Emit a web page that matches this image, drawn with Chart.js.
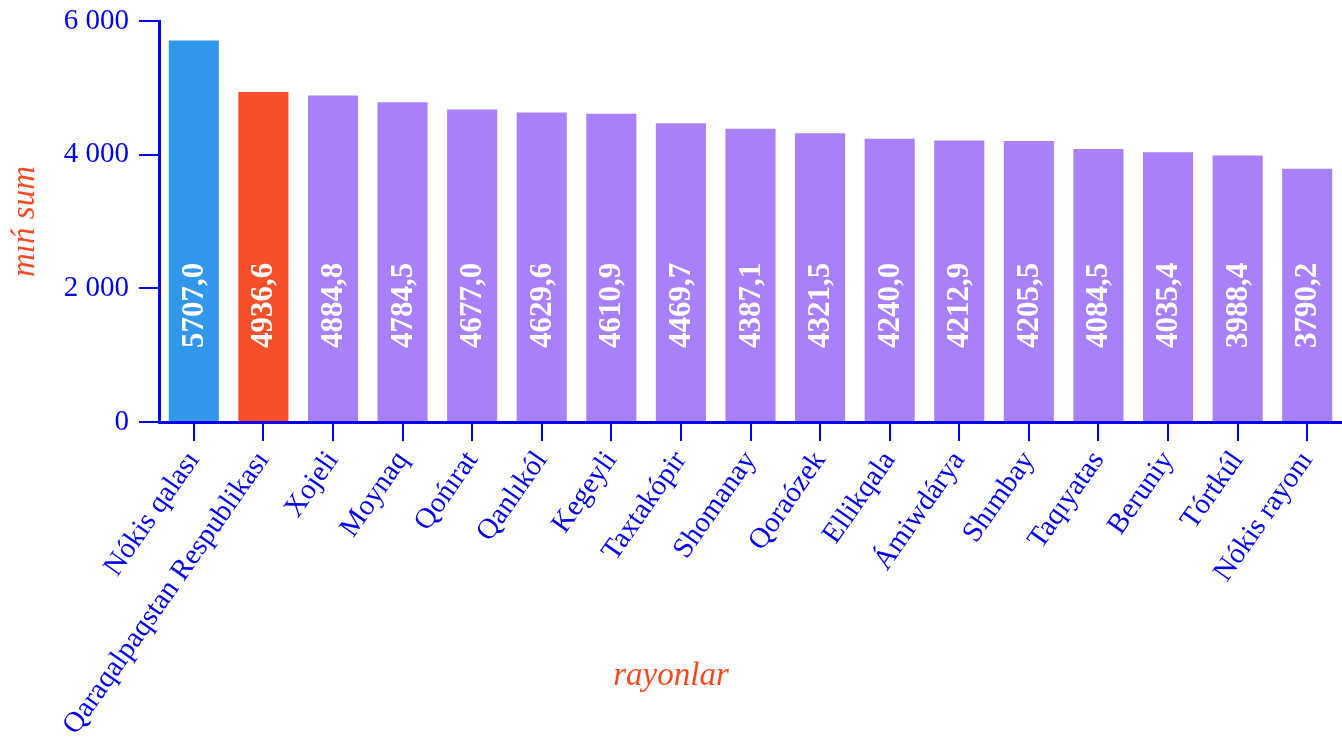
<!DOCTYPE html>
<html>
<head>
<meta charset="utf-8">
<script src="https://cdn.jsdelivr.net/npm/chart.js@4"></script>
<style>
  html, body { margin: 0; padding: 0; background: #fff; }
  #wrap { width: 1342px; height: 739px; }
</style>
</head>
<body>
<div id="wrap"><canvas id="c" width="1342" height="739"></canvas></div>
<script>
// rayonlar boyinsha maǵlıwmatlar
const rayonlar = [
  "Nókis qalası", "Qaraqalpaqstan Respublikası", "Xojeli", "Moynaq", "Qońırat",
  "Qanlıkól", "Kegeyli", "Taxtakópir", "Shomanay", "Qoraózek", "Ellikqala",
  "Ámiwdárya", "Shımbay", "Taqıyatas", "Beruniy", "Tórtkúl", "Nókis rayonı"
];
const mahnisi = [
  5707.0, 4936.6, 4884.8, 4784.5, 4677.0, 4629.6, 4610.9, 4469.7, 4387.1,
  4321.5, 4240.0, 4212.9, 4205.5, 4084.5, 4035.4, 3988.4, 3790.2
];
const yTicks = [0, 2000, 4000, 6000];
const renkler = ["#3197ea", "#f84f2b"];
const qalganRenk = "#a880fa";

const AXIS_BLUE = "#0000ee";
const TITLE_RED = "#fb4a22";
const SERIF = "'Liberation Serif', 'Times New Roman', serif";

const barColors = mahnisi.map((_, i) => renkler[i] || qalganRenk);

const formatSan = (v) => String(v).replace(/\B(?=(\d{3})+(?!\d))/g, " ");

// baǵanalar ishindegi jazıwlar
const barLabels = {
  id: "barLabels",
  afterDatasetsDraw(chart) {
    const { ctx } = chart;
    const meta = chart.getDatasetMeta(0);
    const base = chart.scales.y.getPixelForValue(0);
    ctx.save();
    ctx.fillStyle = "#ffffff";
    ctx.font = "bold 31px " + SERIF;
    ctx.textAlign = "left";
    ctx.textBaseline = "middle";
    meta.data.forEach((bar, i) => {
      ctx.save();
      ctx.translate(bar.x, base - 74);
      ctx.rotate(-Math.PI / 2);
      ctx.fillText(mahnisi[i].toFixed(1).replace(".", ","), 0, 1);
      ctx.restore();
    });
    ctx.restore();
  },
};

new Chart(document.getElementById("c").getContext("2d"), {
  type: "bar",
  data: {
    labels: rayonlar,
    datasets: [{
      data: mahnisi,
      backgroundColor: barColors,
      borderWidth: 0,
      categoryPercentage: 1,
      barPercentage: 0.72,
    }],
  },
  options: {
    responsive: false,
    animation: false,
    layout: { padding: { top: 21, right: 0, left: 0, bottom: 0 } },
    plugins: {
      legend: { display: false },
      tooltip: { enabled: false },
      // pastaǵı ataw: qutı biyikligi 0, sonda x oqtıń jazıwları kesilmeydi
      title: {
        display: true,
        position: "bottom",
        text: "rayonlar",
        color: TITLE_RED,
        font: { family: SERIF, size: 33, style: "italic", weight: "normal", lineHeight: 1.2 },
        padding: { top: -82, bottom: 42.4 },
      },
    },
    scales: {
      x: {
        grid: {
          offset: false,
          drawOnChartArea: false,
          drawTicks: true,
          tickLength: 19,
          color: AXIS_BLUE,
          lineWidth: 2,
        },
        border: { color: AXIS_BLUE, width: 3 },
        ticks: {
          color: AXIS_BLUE,
          font: { family: SERIF, size: 29 },
          autoSkip: false,
          minRotation: 55,
          maxRotation: 55,
          padding: 4,
        },
        afterFit(scale) {
          scale.height = 317;
          scale.paddingLeft = 0;
          scale.paddingRight = 0;
        },
      },
      y: {
        min: 0,
        max: 6000,
        afterBuildTicks(scale) {
          scale.ticks = yTicks.map((v) => ({ value: v }));
        },
        grid: {
          drawOnChartArea: false,
          drawTicks: true,
          tickLength: 20,
          color: AXIS_BLUE,
          lineWidth: 2,
        },
        border: { color: AXIS_BLUE, width: 3 },
        ticks: {
          color: AXIS_BLUE,
          font: { family: SERIF, size: 29 },
          padding: 10,
          callback: (v) => formatSan(v),
        },
        title: {
          display: true,
          text: "mıń sum",
          color: TITLE_RED,
          font: { family: SERIF, size: 33, style: "italic" },
          padding: { top: 6, bottom: 0 },
        },
        afterFit(scale) {
          scale.width = 159;
          scale.paddingTop = 0;
          scale.paddingBottom = 0;
        },
      },
    },
  },
  plugins: [barLabels],
});
</script>
</body>
</html>
